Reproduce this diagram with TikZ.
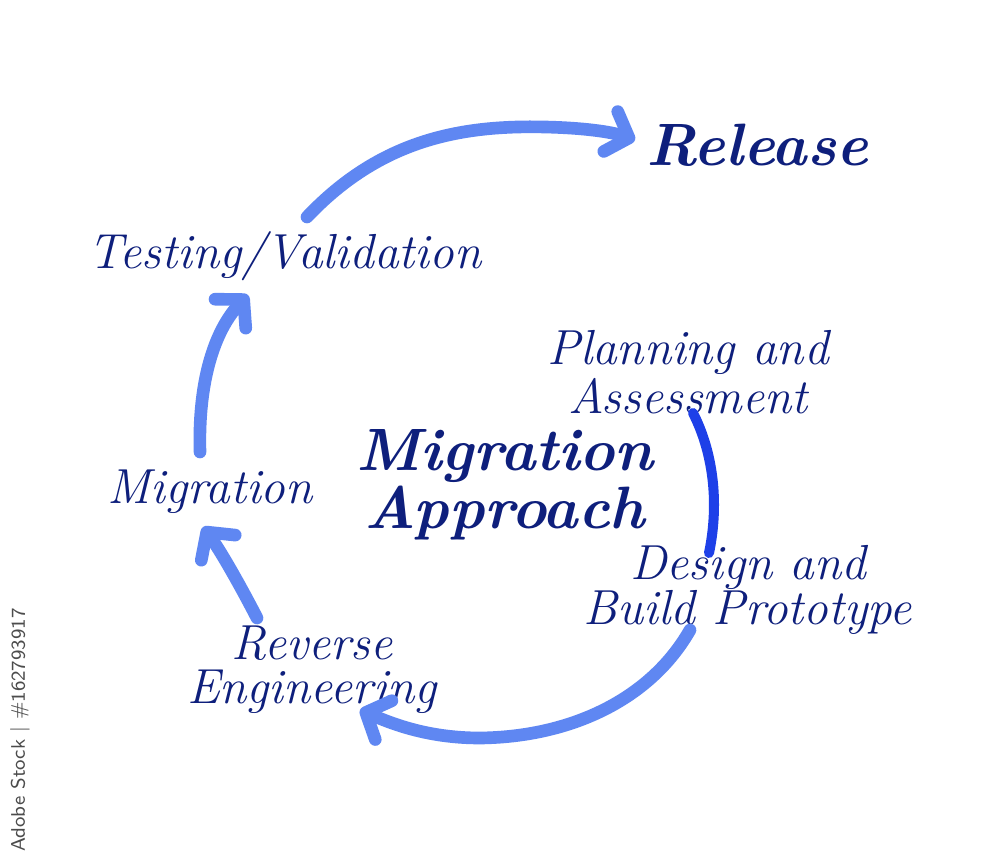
\documentclass[tikz,border=0pt]{standalone}
\usepackage{fontspec}
\usetikzlibrary{arrows.meta}
\definecolor{lb}{HTML}{5F87F2}
\definecolor{db}{HTML}{1E40E8}
\definecolor{txt}{HTML}{0E1F7C}
\begin{document}
\begin{tikzpicture}[x=0.01cm,y=-0.01cm,
  lbl/.style={text=txt,font=\fontsize{14}{12.6}\selectfont\itshape,inner sep=0pt,align=center},
  big/.style={text=txt,font=\fontsize{17}{15}\selectfont\bfseries\itshape,inner sep=0pt,align=center},
  flow/.style={draw=lb,line width=3.6pt,line cap=round,-{Straight Barb[round,length=5.5pt,width=12pt]}},
  link/.style={draw=db,line width=2.85pt,line cap=round},
  wmark/.style={text=black!70,font=\sffamily\fontsize{5.6}{6}\selectfont,rotate=90,inner sep=0pt}]
\useasboundingbox (0,0) rectangle (1000,855);
\fill[white] (0,0) rectangle (1000,855);

\node[big] (rel) at (757,145) {Release};
\node[lbl] (test) at (285,256) {Testing/Validation};
\node[lbl] (plan) at (688,372) {Planning and\\Assessment};
\node[big] (ma) at (505,485) {Migration\\Approach};
\node[lbl] (mig) at (210,492) {Migration};
\node[lbl] (des) at (748,590) {Design and\\Build Prototype};
\node[lbl] (rev) at (312,670) {Reverse\\Engineering};
\node[wmark] (wm) at (20,730) {Adobe Stock | \#162793917};

\coordinate (t1) at (307,217);
\coordinate (r1) at (635,140);
\coordinate (m1) at (200,452);
\coordinate (t2) at (248,295);
\coordinate (v1) at (257,618);
\coordinate (m2) at (203,527);
\coordinate (d1) at (690,630);
\coordinate (v2) at (360,710);
\coordinate (p1) at (693,413);
\coordinate (d2) at (709,553);

\draw[flow] (t1) .. controls (380,140) and (460,125) .. (545,127) .. controls (590,128) and (615,133) .. (r1);
\draw[flow] (m1) .. controls (198,380) and (215,330) .. (t2);
\draw[flow] (v1) .. controls (240,585) and (220,550) .. (m2);
\draw[flow] (d1) .. controls (650,700) and (570,737) .. (480,738) .. controls (430,738) and (395,725) .. (v2);
\draw[link] (p1) .. controls (712,450) and (720,500) .. (d2);
\end{tikzpicture}
\end{document}
